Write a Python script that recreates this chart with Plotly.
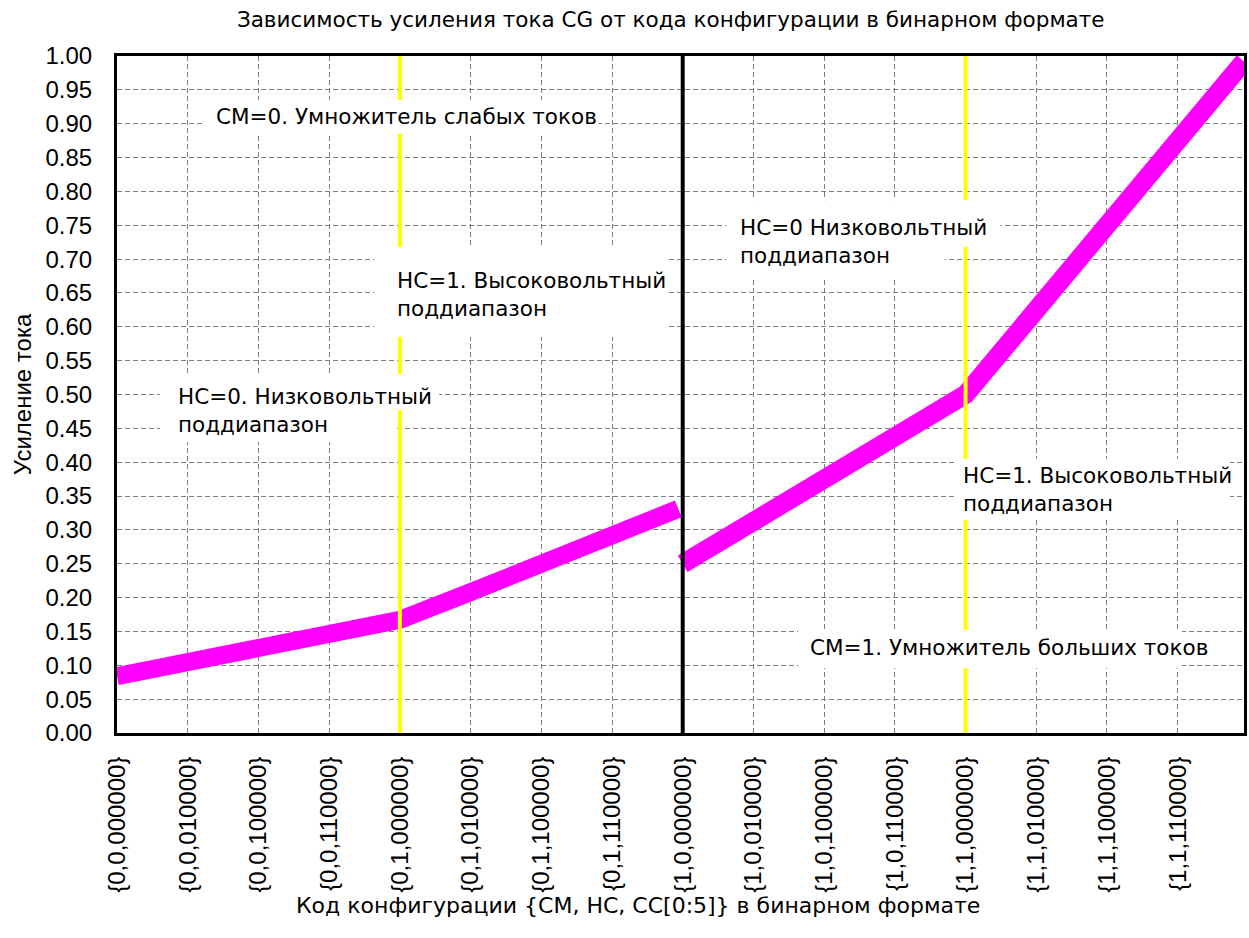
import plotly.graph_objects as go

# ---------------- data ----------------
title_text = "Зависимость усиления тока CG от кода конфигурации в бинарном формате"
x_title = "Код конфигурации {CM, HC, CC[0:5]} в бинарном формате"
y_title = "Усиление тока"

tick_codes = [0, 16, 32, 48, 64, 80, 96, 112, 128, 144, 160, 176, 192, 208, 224, 240]
tick_labels = [
    "{0,0,000000}", "{0,0,010000}", "{0,0,100000}", "{0,0,110000}",
    "{0,1,000000}", "{0,1,010000}", "{0,1,100000}", "{0,1,110000}",
    "{1,0,000000}", "{1,0,010000}", "{1,0,100000}", "{1,0,110000}",
    "{1,1,000000}", "{1,1,010000}", "{1,1,100000}", "{1,1,110000}",
]

# CM = 0 (HC=0 then HC=1)
cm0_codes = [0, 16, 32, 48, 63, 64, 80, 96, 112, 127]
cm0_gain = [0.084, 0.104, 0.125, 0.146, 0.165, 0.167, 0.208, 0.250, 0.292, 0.331]
# CM = 1 (HC=0 then HC=1)
cm1_codes = [128, 144, 160, 176, 191, 192, 208, 224, 240, 255]
cm1_gain = [0.250, 0.3125, 0.375, 0.4375, 0.496, 0.500, 0.625, 0.750, 0.875, 0.992]

hc_switch_codes = [64, 192]   # yellow markers
cm_switch_code = 128          # black marker

ann_font = dict(family="DejaVu Sans", size=21.5, color="black")

# text annotations: (text, x_left, y_center, background boxes [(x0,x1,y0,y1)])
notes = [
    ("CM=0. Умножитель слабых токов", 22.1, 0.911, [(19.9, 109.0, 0.885, 0.935)]),
    ("HC=1. Высоковольтный<br>поддиапазон", 63.2, 0.647, [(58.2, 124.3, 0.585, 0.718)]),
    ("HC=0. Низковольтный<br>поддиапазон", 13.5, 0.476, [(9.7, 72.9, 0.477, 0.53), (9.7, 63.3, 0.430, 0.477)]),
    ("HC=0 Низковольтный<br>поддиапазон", 140.8, 0.726, [(137.9, 199.9, 0.718, 0.787), (137.9, 187.3, 0.672, 0.718)]),
    ("HC=1. Высоковольтный<br>поддиапазон", 191.1, 0.359, [(189.8, 251.8, 0.315, 0.405)]),
    ("CM=1. Умножитель больших токов", 156.6, 0.1256, [(154.1, 241.0, 0.096, 0.152)]),
]

fig = go.Figure()

fig.add_trace(go.Scatter(x=cm0_codes, y=cm0_gain, mode="lines",
                         line=dict(color="#FF00FF", width=18), showlegend=False))
fig.add_trace(go.Scatter(x=cm1_codes, y=cm1_gain, mode="lines",
                         line=dict(color="#FF00FF", width=19), showlegend=False))

for c in hc_switch_codes:
    fig.add_trace(go.Scatter(x=[c, c], y=[0, 1], mode="lines",
                             line=dict(color="#FFFF00", width=4), showlegend=False))
fig.add_trace(go.Scatter(x=[cm_switch_code, cm_switch_code], y=[0, 1], mode="lines",
                         line=dict(color="black", width=4), showlegend=False))

shapes = []
annotations = []
for text, xl, yc, boxes in notes:
    for (x0, x1, y0, y1) in boxes:
        shapes.append(dict(type="rect", xref="x", yref="y", x0=x0, x1=x1, y0=y0, y1=y1,
                           fillcolor="white", line=dict(width=0), layer="above"))
    annotations.append(dict(text=text, x=xl, y=yc, xref="x", yref="y",
                            xanchor="left", yanchor="middle", align="left",
                            showarrow=False, font=ann_font, borderpad=0))

# x-axis title placed as a paper annotation (it is off-centre in the reference)
annotations.append(dict(text=x_title, x=0.462, y=-0.2555, xref="paper", yref="paper",
                        xanchor="center", yanchor="middle", showarrow=False,
                        font=dict(family="DejaVu Sans", size=22, color="black")))

fig.update_layout(
    width=1249, height=938,
    margin=dict(l=117, r=2, t=56, b=205),
    paper_bgcolor="white", plot_bgcolor="white",
    title=dict(text=title_text, x=0.537, xanchor="center", y=0.979, yanchor="middle",
               font=dict(family="DejaVu Sans", size=21.5, color="black")),
    shapes=shapes, annotations=annotations,
    showlegend=False,
)

fig.update_xaxes(
    range=[0, 255], tickmode="array", tickvals=tick_codes, ticktext=tick_labels,
    tickangle=-90, ticks="", ticklabelstandoff=11,
    tickfont=dict(family="Liberation Sans, Arial", size=24, color="black"),
    showgrid=True, gridcolor="#7f7f7f", gridwidth=1, griddash="5px,3px",
    showline=True, linecolor="black", linewidth=3, mirror=True, zeroline=False,
)
fig.update_yaxes(
    range=[0, 1], tickmode="linear", tick0=0, dtick=0.05, tickformat=".2f",
    ticks="", ticklabelstandoff=17,
    tickfont=dict(family="Liberation Sans, Arial", size=24, color="black"),
    showgrid=True, gridcolor="#7f7f7f", gridwidth=1, griddash="5px,3px",
    showline=True, linecolor="black", linewidth=3, mirror=True, zeroline=False,
    title=dict(text=y_title, font=dict(family="Liberation Sans, Arial", size=24, color="black"), standoff=8),
)

fig.write_html("out.html")
